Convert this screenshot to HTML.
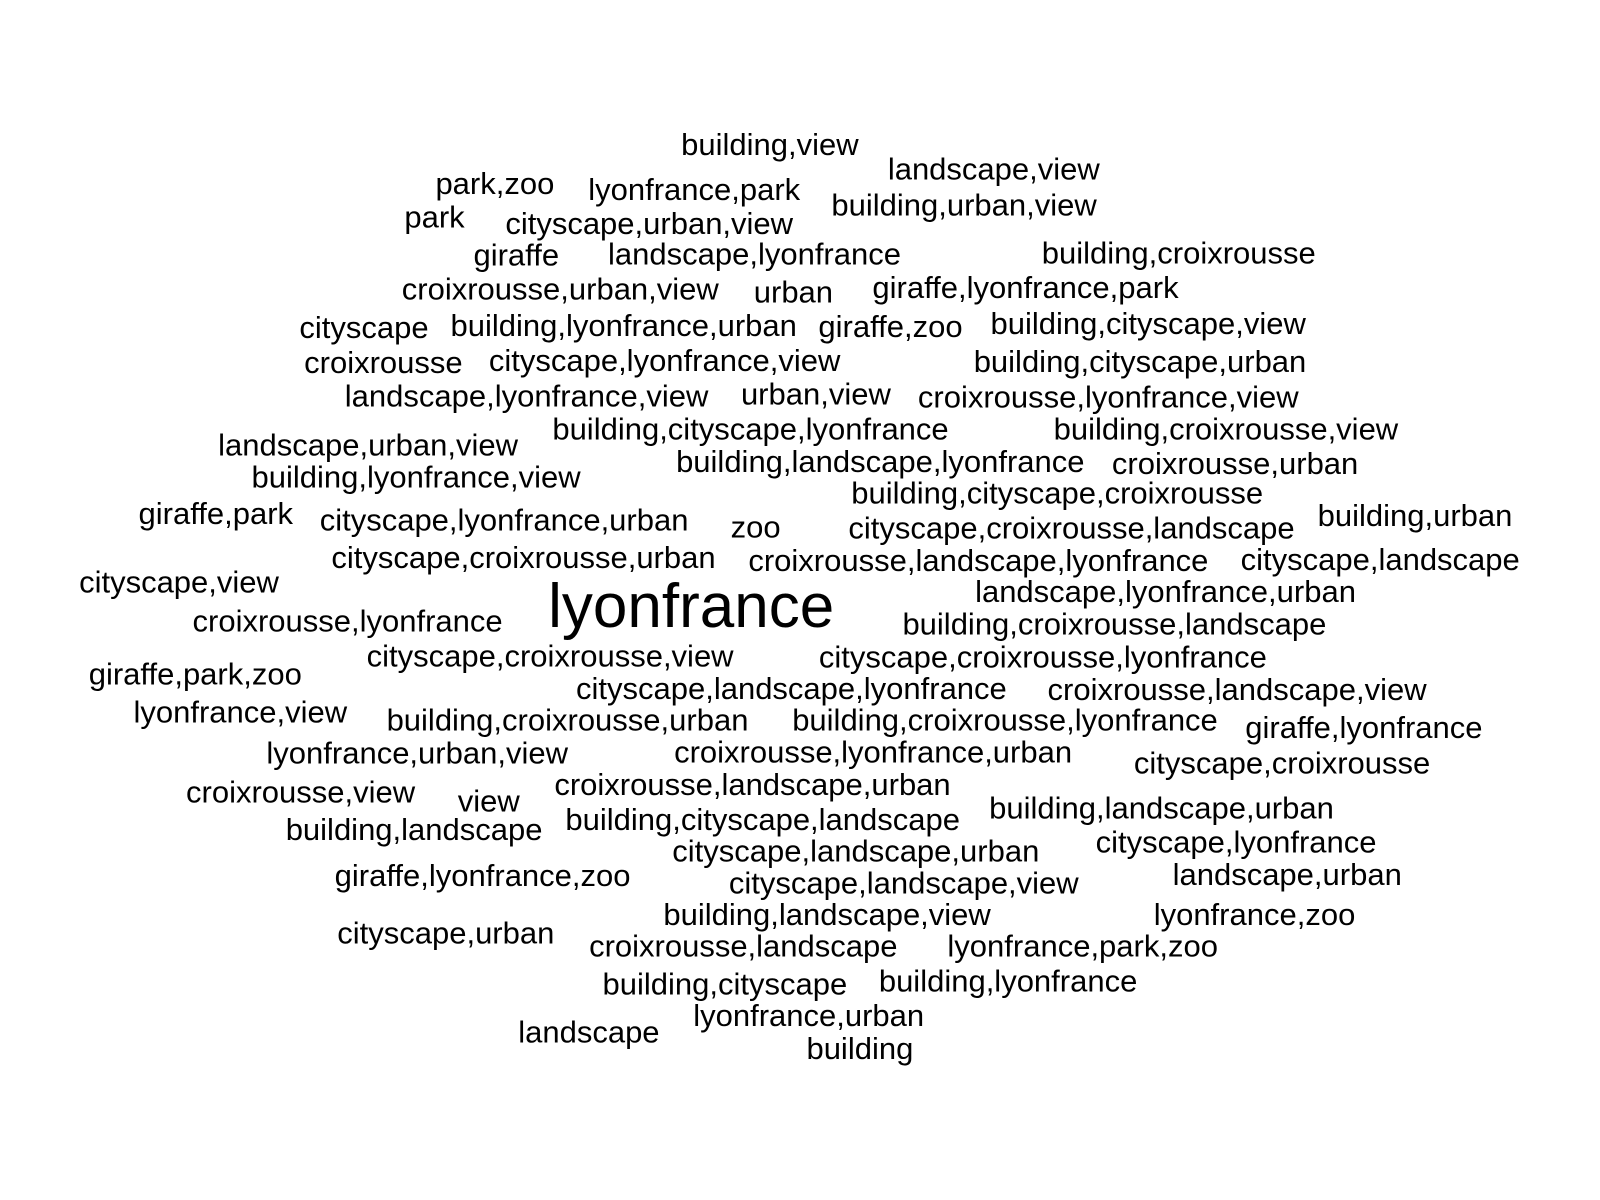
<!DOCTYPE html>
<html><head><meta charset="utf-8"><style>
html,body{margin:0;padding:0;background:#fff;}
svg{display:block;}
text{font-family:"Liberation Sans",Arial,sans-serif;fill:#000;}
</style></head><body>
<svg id="cloud" width="1600" height="1200" viewBox="0 0 1600 1200" xmlns="http://www.w3.org/2000/svg"></svg>
<script>
const words=["building,view","landscape,view","park,zoo","lyonfrance,park","building,urban,view","park","cityscape,urban,view","giraffe","landscape,lyonfrance","building,croixrousse","croixrousse,urban,view","urban","giraffe,lyonfrance,park","cityscape","building,lyonfrance,urban","giraffe,zoo","building,cityscape,view","croixrousse","cityscape,lyonfrance,view","building,cityscape,urban","landscape,lyonfrance,view","urban,view","croixrousse,lyonfrance,view","building,cityscape,lyonfrance","building,croixrousse,view","landscape,urban,view","building,landscape,lyonfrance","croixrousse,urban","building,lyonfrance,view","building,cityscape,croixrousse","giraffe,park","cityscape,lyonfrance,urban","zoo","cityscape,croixrousse,landscape","building,urban","cityscape,croixrousse,urban","croixrousse,landscape,lyonfrance","cityscape,landscape","cityscape,view","lyonfrance","landscape,lyonfrance,urban","croixrousse,lyonfrance","building,croixrousse,landscape","cityscape,croixrousse,view","cityscape,croixrousse,lyonfrance","giraffe,park,zoo","cityscape,landscape,lyonfrance","croixrousse,landscape,view","lyonfrance,view","building,croixrousse,urban","building,croixrousse,lyonfrance","giraffe,lyonfrance","lyonfrance,urban,view","croixrousse,lyonfrance,urban","cityscape,croixrousse","croixrousse,view","view","croixrousse,landscape,urban","building,landscape,urban","building,landscape","building,cityscape,landscape","cityscape,landscape,urban","cityscape,lyonfrance","giraffe,lyonfrance,zoo","cityscape,landscape,view","landscape,urban","building,landscape,view","lyonfrance,zoo","cityscape,urban","croixrousse,landscape","lyonfrance,park,zoo","building,cityscape","building,lyonfrance","landscape","lyonfrance,urban","building"];
const freqs=words.map(w=>w==="lyonfrance"?2:1);
const cx=[755,974,486,681,945,427,637,507,740,1155,550,778,1005,358,612,873,1125,377,652,1117,517,800,1086,736,1201,362,863,1210,409,1036,213,495,741,1050,1386,514,959,1352,177,678,1142,342,1092,540,1022,193,776,1212,237,557,985,1336,410,856,1256,296,480,738,1138,407,748,839,1211,474,886,1261,811,1229,438,729,1061,711,988,578,793,843];
const cy=[143,167,181,187,202,214,220,251,250,249,284,287,283,322,320,321,318,356,354,355,389,387,390,421,421,437,453,455,468,484,504,510,517,518,506,547,550,549,571,595,580,609,612,643,644,661,675,676,698,706,706,713,738,737,748,776,785,769,792,813,803,834,825,858,865,857,896,896,914,927,927,964,961,1011,995,1027];
const S=1600/1565, svg=document.getElementById('cloud'), NS="http://www.w3.org/2000/svg";
for(let i=0;i<words.length;i++){
  const t=document.createElementNS(NS,'text');
  const fs=freqs[i]===2?62:31;
  t.setAttribute('x',(cx[i]*S-2).toFixed(1));
  t.setAttribute('y',(cy[i]*S+fs*0.32-1).toFixed(1));
  t.setAttribute('text-anchor','middle');
  t.setAttribute('font-size',fs);
  t.textContent=words[i];
  
  
  svg.appendChild(t);
}
</script>
</body></html>
